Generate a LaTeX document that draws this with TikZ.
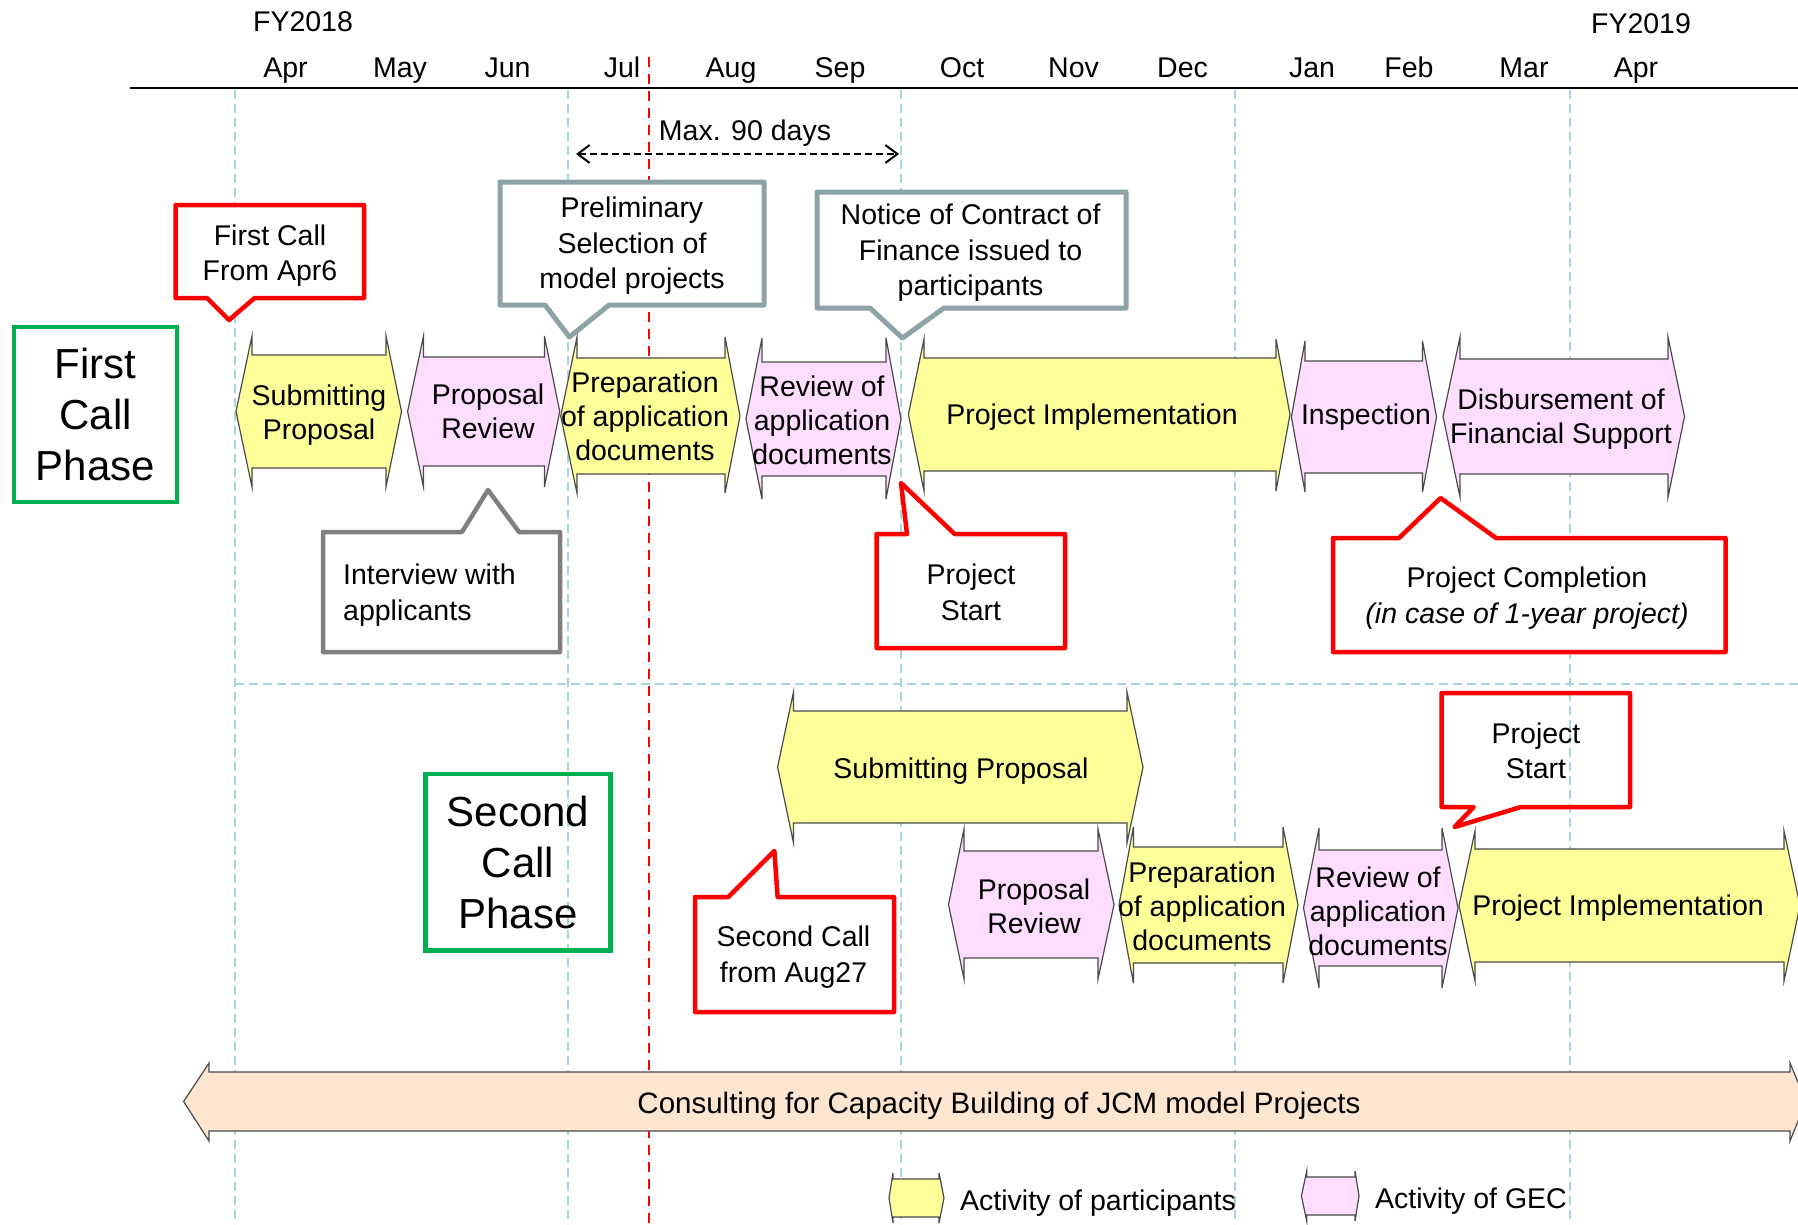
\documentclass[tikz,border=0pt]{standalone}
\usepackage{fontspec}
\setmainfont{Liberation Sans}
\usetikzlibrary{arrows.meta}
\definecolor{ylw}{HTML}{FFFF99}
\definecolor{pnk}{HTML}{FFDDFF}
\definecolor{pch}{HTML}{FDE5D0}
\definecolor{outl}{HTML}{4A4A4A}
\definecolor{gridblue}{HTML}{A8D4DC}
\definecolor{callblue}{HTML}{8DA3A7}
\definecolor{callgray}{HTML}{7F7F7F}
\definecolor{grn}{HTML}{00B050}
\definecolor{rd}{HTML}{FF0000}
\newcommand\lrshape[9]{%
  \path[arrowshape,fill=#1] (#2,{(#7+#8)/2}) -- (#3,#6) -- (#3,#7) -- (#4,#7) -- (#4,#6) -- (#5,{(#7+#8)/2}) -- (#4,#9) -- (#4,#8) -- (#3,#8) -- (#3,#9) -- cycle;}
\begin{document}
\begin{tikzpicture}[x=1pt,y=-1pt,
  txt/.style={font=\fontsize{28.5}{34}\selectfont, align=center, inner sep=0pt},
  ctxt/.style={font=\fontsize{28.5}{35.5}\selectfont, align=center, inner sep=0pt},
  bigtxt/.style={font=\fontsize{42}{51}\selectfont, align=center, inner sep=0pt},
  month/.style={font=\fontsize{28.5}{34}\selectfont, anchor=base, inner sep=0pt},
  arrowshape/.style={draw=outl, line width=1.2pt, line join=miter},
  callred/.style={draw=rd, line width=4.5pt, fill=white, line join=round},
  callbl/.style={draw=callblue, line width=5pt, fill=white, line join=round},
  callgr/.style={draw=callgray, line width=4.5pt, fill=white, line join=round},
  phase/.style={draw=grn, line width=4.5pt},
  gridline/.style={draw=gridblue, line width=1.5pt, dash pattern=on 9pt off 5pt},
  redline/.style={draw=rd, line width=2pt, dash pattern=on 10pt off 7pt},
  spanarrow/.style={draw=black, line width=2pt, dash pattern=on 7pt off 4pt, {Straight Barb[length=12pt,width=18pt,line width=2pt]}-{Straight Barb[length=12pt,width=18pt,line width=2pt]}}
]
\useasboundingbox (0,0) rectangle (1798,1224);

% ---- grid ----
\foreach \gx in {235,568,901,1235,1570} {\draw[gridline] (\gx,90) -- (\gx,1224);}
\draw[gridline] (235,684) -- (1798,684);
\draw[line width=2pt] (130,88) -- (1798,88);
\draw[redline] (649,57) -- (649,1224);

% ---- header ----
\node[month] (fy18) at (303,31) {FY2018};
\node[month] (fy19) at (1641,33) {FY2019};
\node[month] (m1) at (285.5,77.5) {Apr};
\node[month] (m2) at (400,77.5) {May};
\node[month] (m3) at (507.5,77.5) {Jun};
\node[month] (m4) at (622,77.5) {Jul};
\node[month] (m5) at (731,77.5) {Aug};
\node[month] (m6) at (840,77.5) {Sep};
\node[month] (m7) at (962,77.5) {Oct};
\node[month] (m8) at (1073.5,77.5) {Nov};
\node[month] (m9) at (1182.5,77.5) {Dec};
\node[month] (m10) at (1312,77.5) {Jan};
\node[month] (m11) at (1409,77.5) {Feb};
\node[month] (m12) at (1524,77.5) {Mar};
\node[month] (m13) at (1636,77.5) {Apr};

% ---- max 90 days ----
\node[txt] (max90) at (745,133.5) {Max. 90 days};
\coordinate (d90L) at (576,154);
\coordinate (d90R) at (899,154);
\draw[spanarrow] (d90L) -- (d90R);

% ---- first call row arrows ----
\lrshape{ylw}{236}{252}{386}{401.5}{336}{355}{468}{487}
\lrshape{pnk}{407.6}{423.5}{544.4}{559.7}{336}{357}{466}{487}
\lrshape{ylw}{560.7}{577}{725}{740}{337}{358}{474}{493}
\lrshape{pnk}{746}{762}{886}{901}{338}{362}{476}{499}
\lrshape{ylw}{908.4}{924}{1276}{1290}{339}{358}{471}{491}
\lrshape{pnk}{1291.4}{1305}{1422.5}{1436.5}{341}{361}{473}{492}
\lrshape{pnk}{1443}{1460}{1668}{1684.5}{337}{359}{474}{497}

% ---- second call row arrows ----
\lrshape{ylw}{777.6}{793.5}{1127}{1143}{692}{711}{823}{843}
\lrshape{pnk}{948.5}{964}{1098}{1114}{829}{851}{958}{979}
\lrshape{ylw}{1119}{1133.4}{1283}{1298}{827}{847}{963}{983}
\lrshape{pnk}{1303.5}{1319}{1442}{1458}{828}{850}{966}{988}
\lrshape{ylw}{1459}{1475}{1784}{1800}{831}{849}{962}{981}

% ---- consulting ----
\lrshape{pch}{183.6}{209}{1790}{1806}{1063}{1072}{1131}{1141}

% ---- legend ----
\lrshape{ylw}{889}{893}{939}{944}{1173}{1179}{1217}{1223}
\lrshape{pnk}{1301.4}{1306.7}{1355}{1359}{1171}{1177}{1215}{1221}

% ---- callouts ----
\path[callred] (175.5,205) -- (364,205) -- (364,298) -- (254.6,298) -- (229,320) -- (207,298) -- (175.5,298) -- cycle;
\path[callbl] (500,182) -- (764,182) -- (764,305) -- (609,305) -- (569.4,337) -- (545,305) -- (500,305) -- cycle;
\path[callbl] (817,192) -- (1126,192) -- (1126,308) -- (944,308) -- (902.4,338) -- (870,308) -- (817,308) -- cycle;
\path[callgr] (323,532) -- (462,532) -- (488,490) -- (519,532) -- (560,532) -- (560,652) -- (323,652) -- cycle;
\path[callred] (876.5,534) -- (907,534) -- (901,483) -- (954.6,534) -- (1065,534) -- (1065,648) -- (876.5,648) -- cycle;
\path[callred] (1333,538) -- (1399,538) -- (1440.6,498) -- (1496,538) -- (1725.5,538) -- (1725.5,652) -- (1333,652) -- cycle;
\path[callred] (695,897) -- (728.4,897) -- (774.4,851) -- (777.6,897) -- (894,897) -- (894,1012) -- (695,1012) -- cycle;
\path[callred,fill=none] (1441.5,693) -- (1630,693) -- (1630,807) -- (1521,807) -- (1454.5,827) -- (1473.7,807) -- (1441.5,807) -- cycle;

% ---- phase boxes ----
\path[phase] (14,327) rectangle (177,502);
\path[phase] (425.5,774) rectangle (610.5,950.7);

% ---- texts ----
\node[bigtxt] (ph1) at (95.5,414) {First\\Call\\Phase};
\node[bigtxt] (ph2) at (518,862) {Second\\Call\\Phase};

\node[txt] (a1) at (319,415) {Submitting\\Proposal};
\node[txt] (a2) at (488,411.5) {Proposal\\Review};
\node[txt] (a3) at (645,416.5) {Preparation\\of application\\documents};
\node[txt] (a4) at (822,420.5) {Review of\\application\\documents};
\node[txt] (a5) at (1092,417.5) {Project Implementation};
\node[txt] (a6) at (1366,417.5) {Inspection};
\node[txt] (a7) at (1561,419) {Disbursement of\\Financial Support};

\node[txt] (b1) at (961,771.5) {Submitting Proposal};
\node[txt] (b2) at (1034,906.5) {Proposal\\Review};
\node[txt] (b3) at (1202,906.5) {Preparation\\of application\\documents};
\node[txt] (b4) at (1378,911) {Review of\\application\\documents};
\node[txt] (b5) at (1618,908.5) {Project Implementation};

\node[txt,font=\fontsize{29.5}{34}\selectfont] (cons) at (999,1105.5) {Consulting for Capacity Building of JCM model Projects};

\node[ctxt] (t1) at (270,255.5) {First Call\\From Apr6};
\node[ctxt] (t2) at (632,246) {Preliminary\\Selection of\\model projects};
\node[ctxt] (t3) at (970.6,253) {Notice of Contract of\\Finance issued to\\participants};
\node[ctxt,anchor=west,align=left] (t4) at (343,595) {Interview with\\applicants};
\node[ctxt] (t5) at (971,592.5) {Project\\Start};
\node[ctxt] (t6) at (1527,598) {Project Completion\\\textit{(in case of 1-year project)}};
\node[ctxt] (t7) at (793.5,957) {Second Call\\from Aug27};
\node[ctxt] (t8) at (1536,751) {Project\\Start};

\node[txt,anchor=west] (lg1) at (960,1203.5) {Activity of participants};
\node[txt,anchor=west] (lg2) at (1375,1201.5) {Activity of GEC};
\end{tikzpicture}
\end{document}
